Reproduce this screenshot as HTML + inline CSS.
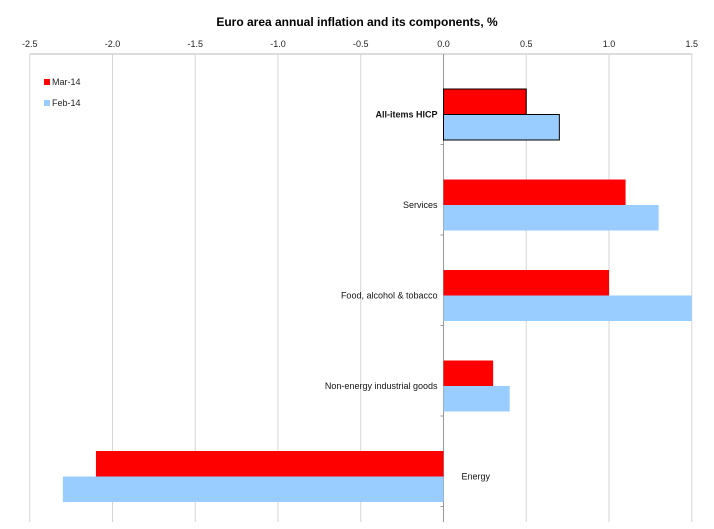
<!DOCTYPE html>
<html><head><meta charset="utf-8"><style>
body{margin:0;background:#fff;}
svg{display:block;font-family:"Liberation Sans",Arial,sans-serif;}
</style></head><body>
<svg id="chart" width="714" height="529" viewBox="0 0 714 529">
<text x="357" y="26" text-anchor="middle" font-size="12" font-weight="bold" fill="#000">Euro area annual inflation and its components, %</text>
<g id="grid"></g><g id="bars"></g><g id="labels"></g>
<g>
<rect x="44" y="79" width="6" height="6" fill="#ff0000"/>
<text x="52" y="85" font-size="9" fill="#222">Mar-14</text>
<rect x="44" y="100" width="6" height="6" fill="#99ccff"/>
<text x="52" y="106" font-size="9" fill="#222">Feb-14</text>
</g>
</svg>
<script>
const categories=["All-items HICP","Services","Food, alcohol & tobacco","Non-energy industrial goods","Energy"];
const mar14=[0.5,1.1,1.0,0.3,-2.1];
const feb14=[0.7,1.3,1.5,0.4,-2.3];
const ticks=[-2.5,-2.0,-1.5,-1.0,-0.5,0.0,0.5,1.0,1.5];
const NS="http://www.w3.org/2000/svg";
const x=v=>443.5+v*165.5;
const top0=54,bot=522,band=90.5;
const grid=document.getElementById('grid'),bars=document.getElementById('bars'),labels=document.getElementById('labels');
function mk(tag,a,p){const e=document.createElementNS(NS,tag);for(const k in a)e.setAttribute(k,a[k]);p.appendChild(e);return e;}
mk('line',{x1:x(-2.5),x2:x(1.5),y1:top0,y2:top0,stroke:'#bbb'},grid);
ticks.forEach(t=>{
 const l=mk('line',{x1:x(t),x2:x(t),y1:top0,y2:bot,stroke:t===0?'#999':'#d6d6d6'},grid);
 
 
 const tx=mk('text',{x:x(t),y:47,'text-anchor':'middle','font-size':9,fill:'#222'},grid);
 tx.textContent=t.toFixed(1);
 
 
});
categories.forEach((c,i)=>{
 const y0=top0+i*band;
 mk('line',{x1:x(0)-3,x2:x(0),y1:y0+band,y2:y0+band,stroke:'#999'},grid);
 const h=25.5,yc=y0+35;
 const v1=mar14[i],v2=feb14[i];
 const r1=mk('rect',{x:Math.min(x(0),x(v1)),y:yc,width:Math.abs(x(v1)-x(0)),height:h,fill:'#ff0000',stroke:i===0?'#000':'none','stroke-width':1},bars);
 
 
 const r2=mk('rect',{x:Math.min(x(0),x(v2)),y:yc+h,width:Math.abs(x(v2)-x(0)),height:h,fill:'#99ccff',stroke:i===0?'#000':'none','stroke-width':1},bars);
 
 
 const neg=v1<0;
 const t=mk('text',{x:neg?x(0)+18:x(0)-6,y:yc+h+3,'text-anchor':neg?'start':'end','font-size':9,fill:'#111','font-weight':i===0?'bold':'normal'},labels);
 t.textContent=c;
 
 
});
</script>
</body></html>
